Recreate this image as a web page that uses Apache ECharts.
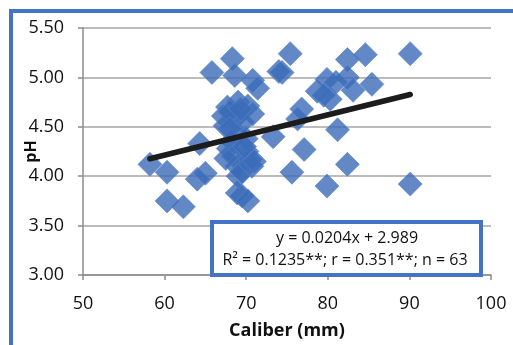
<!DOCTYPE html>
<html>
<head>
<meta charset="utf-8">
<script src="https://cdn.jsdelivr.net/npm/echarts@6/dist/echarts.min.js"></script>
<style>
html,body{margin:0;padding:0;background:#fff;}
#chart{width:513px;height:345px;}
</style>
</head>
<body>
<div id="chart"></div>
<script>
// Caliber (mm)
const caliber = [58.2,60.3,60.3,62.3,64.3,64.0,65.0,65.8,68.3,68.6,70.8,71.4,67.7,69.0,70.2,67.2,68.6,70.8,67.4,69.6,67.8,70.1,68.9,70.7,69.5,68.9,70.2,73.3,75.4,74.4,82.4,84.6,90.1,79.9,82.4,85.4,78.7,80.3,83.1,76.8,76.3,81.2,77.1,82.4,75.6,79.9,90.1,69.0,68.2,70.0,68.5,67.5,70.5,69.5,68.0,69.3,71.0,69.8,68.0,81.0,79.5,74.0,69.0];
// pH
const ph = [4.12,4.04,3.75,3.69,4.33,3.97,4.03,5.05,5.19,5.02,4.97,4.89,4.70,4.75,4.71,4.61,4.58,4.63,4.51,4.55,4.28,4.25,4.10,4.10,3.80,3.83,3.75,4.40,5.24,5.05,5.18,5.23,5.24,4.98,5.00,4.93,4.86,4.78,4.87,4.68,4.58,4.47,4.27,4.12,4.04,3.90,3.92,4.42,4.35,4.38,4.20,4.18,4.17,4.05,4.65,4.68,4.15,4.30,4.48,4.95,4.82,5.06,4.00];
const slope = 0.0204, intercept = 2.989;
const trendRange = [58.2, 90.1];
const eqLine1 = 'y = 0.0204x + 2.989';
const eqLine2 = 'R² = 0.1235**; r = 0.351**; n = 63';
const xTicks = {min: 50, max: 100, interval: 10};
const yTicks = {min: 3, max: 5.5, interval: 0.5};

const points = caliber.map((c, i) => [c, ph[i]]);
const trend = trendRange.map(x => [x, slope * x + intercept]);

const FONT = 'Open Sans';
const chart = echarts.init(document.getElementById('chart'), null, {renderer: 'canvas'});
chart.setOption({
  backgroundColor: '#fff',
  animation: false,
  grid: {left: 83, right: 22, top: 28, bottom: 68},
  xAxis: {
    type: 'value', min: xTicks.min, max: xTicks.max, interval: xTicks.interval,
    name: 'Caliber (mm)', nameLocation: 'middle', nameGap: 47, nameMoveOverlap: false,
    nameTextStyle: {fontFamily: FONT, fontWeight: 'bold', fontSize: 18, color: '#111'},
    axisLine: {show: true, lineStyle: {color: '#8c8c8c', width: 1.5}},
    axisTick: {show: true, inside: false, length: 5, lineStyle: {color: '#8c8c8c', width: 1.5}},
    axisLabel: {fontFamily: FONT, fontSize: 18, color: '#111', margin: 20},
    splitLine: {show: false}
  },
  yAxis: {
    type: 'value', min: yTicks.min, max: yTicks.max, interval: yTicks.interval,
    name: 'pH', nameLocation: 'middle', nameGap: 44, nameRotate: 90, nameMoveOverlap: false,
    nameTextStyle: {fontFamily: FONT, fontWeight: 'bold', fontSize: 16, color: '#111'},
    axisLine: {show: true, lineStyle: {color: '#8c8c8c', width: 1.5}},
    axisTick: {show: true, inside: false, length: 5, lineStyle: {color: '#8c8c8c', width: 1.5}},
    axisLabel: {fontFamily: FONT, fontSize: 18, color: '#111', margin: 19,
      formatter: v => v.toFixed(2)},
    splitLine: {show: true, lineStyle: {color: '#a6a6a6', width: 1.5}}
  },
  series: [
    {
      type: 'scatter', data: points, symbol: 'diamond', symbolSize: 24,
      itemStyle: {color: '#3b6bb8', borderColor: '#5a86cc', borderWidth: 0.8},
      z: 2
    },
    {
      type: 'line', data: trend, showSymbol: false, symbol: 'none',
      lineStyle: {color: '#1c1c1c', width: 5.5, cap: 'round'},
      z: 3
    }
  ],
  graphic: [
    {type: 'rect', shape: {x: 11, y: 11, width: 700, height: 500},
     style: {fill: 'none', stroke: '#4472c4', lineWidth: 4}, z: 10},
    {type: 'rect', shape: {x: 212, y: 222, width: 269, height: 53},
     style: {fill: '#fff', stroke: '#4472c4', lineWidth: 4}, z: 10},
    {type: 'text', x: 347, y: 238, z: 11,
     style: {text: eqLine1, fontFamily: FONT, fontSize: 16, fill: '#111', align: 'center', verticalAlign: 'middle'}},
    {type: 'text', x: 345, y: 260, z: 11,
     style: {text: eqLine2, fontFamily: FONT, fontSize: 16, fill: '#111', align: 'center', verticalAlign: 'middle'}}
  ]
});
</script>
</body>
</html>
